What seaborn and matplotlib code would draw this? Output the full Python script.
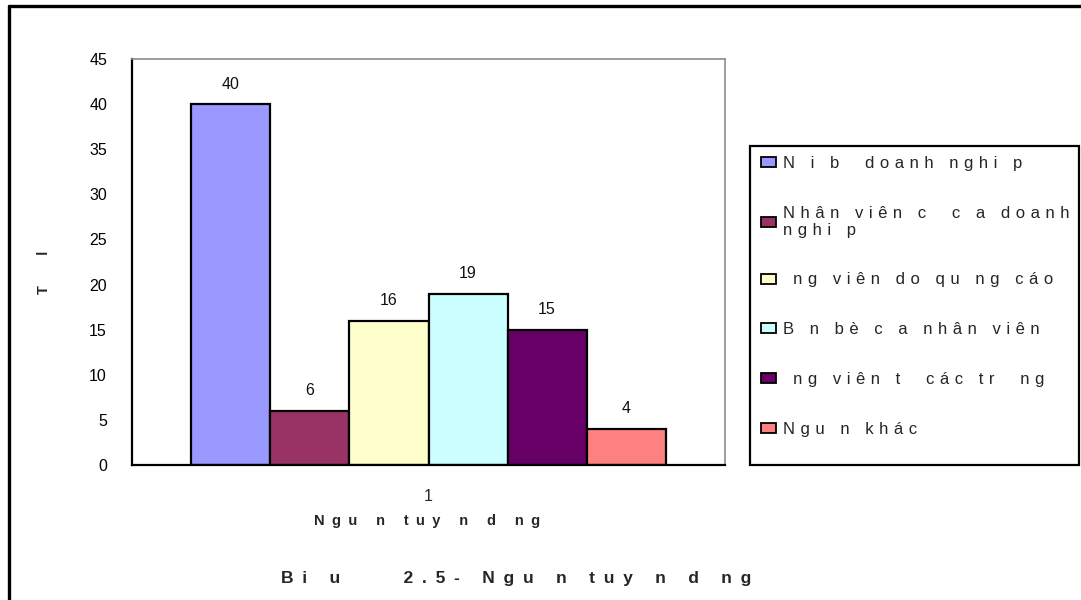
import matplotlib
matplotlib.use("Agg")
import matplotlib.pyplot as plt
import seaborn as sns
import pandas as pd
from matplotlib.patches import Rectangle, Patch
from matplotlib.lines import Line2D

# Recruitment sources and their share (%)
sources = [
    "N i b  doanh nghi p",
    "Nhân viên c  c a doanh\nnghi p",
    " ng viên do qu ng cáo",
    "B n bè c a nhân viên",
    " ng viên t  các tr  ng",
    "Ngu n khác",
]
shares = [40, 6, 16, 19, 15, 4]
group = ["1"] * len(sources)
colors = ["#9999FF", "#993366", "#FFFFCC", "#CCFFFF", "#660066", "#FF8080"]
y_ticks = [0, 5, 10, 15, 20, 25, 30, 35, 40, 45]

x_title = "Ngu n tuy n d ng"
y_title = "T  l"
chart_title = "Bi u    2.5- Ngu n tuy n d ng"

sns.set_style("white")
plt.rcParams["font.family"] = ["Liberation Sans", "DejaVu Sans"]

# wide letter tracking, as in the printed report
NARROW = "\u2004"   # three-per-em space
WIDE = "\u2002"     # en space


def track(s, sep=NARROW):
    return "\n".join(sep.join(line) for line in s.split("\n"))


df = pd.DataFrame({"group": group, "source": sources, "share": shares})

W, H = 1081, 600
fig = plt.figure(figsize=(W / 100, H / 100), dpi=100)
fig.patch.set_facecolor("white")


def fx(px):
    return px / W


def fy(py):
    return 1 - py / H


left, right, top, bottom = 132, 725, 59, 465
ax = fig.add_axes([fx(left), fy(bottom), fx(right - left), (bottom - top) / H])

sns.barplot(
    data=df, x="group", y="share", hue="source", hue_order=sources,
    palette=colors, edgecolor="black", linewidth=1.6, width=0.8, gap=0,
    saturation=1, legend=False, ax=ax,
)

for cont in ax.containers:
    ax.bar_label(cont, padding=9, fontsize=11.5, color="#111111")

ax.set_xlim(-0.5, 0.5)
ax.set_ylim(0, 45)
ax.set_yticks(y_ticks)
ax.tick_params(axis="y", direction="out", length=6, width=1.3, labelsize=11.5, pad=12, colors="black")
ax.set_xticks([0])
ax.set_xticklabels(["1"], fontsize=11.5)
ax.tick_params(axis="x", which="major", length=0, pad=17)
ax.set_xticks([-0.5, 0.5], minor=True)
ax.tick_params(axis="x", which="minor", direction="out", length=6, width=1.3)
ax.set_xlabel("")
ax.set_ylabel("")
ax.grid(False)

for side in ("left", "bottom"):
    ax.spines[side].set_color("black")
    ax.spines[side].set_linewidth(1.6)
for side in ("top", "right"):
    ax.spines[side].set_color("#8c8c8c")
    ax.spines[side].set_linewidth(1.2)

# Axis titles and chart caption
fig.text(fx(427), fy(521), track(x_title, WIDE), ha="center", va="center",
         fontsize=10.5, fontweight="bold")
fig.text(fx(44), fy(272), track(y_title, WIDE), ha="center", va="center",
         rotation=90, fontsize=10.5, fontweight="bold")
fig.text(fx(516), fy(578), track(chart_title, WIDE), ha="center", va="center",
         fontsize=12.5, fontweight="bold")

# Legend box
lx0, ly0, lx1, ly1 = 750, 146, 1079, 465
fig.add_artist(Rectangle((fx(lx0), fy(ly1)), fx(lx1 - lx0), (ly1 - ly0) / H,
                         transform=fig.transFigure, fill=False, edgecolor="black", linewidth=1.6))
handles = [Patch(facecolor=c, edgecolor="black", linewidth=1.3) for c in colors]
leg = fig.legend(handles, [track(s) for s in sources], loc="upper left",
                 bbox_to_anchor=(fx(761), fy(156)),
                 frameon=False, fontsize=12, labelspacing=2.09, handlelength=0.9,
                 handleheight=0.55, handletextpad=0.4, borderaxespad=0, borderpad=0)
leg.get_texts()[1].set_linespacing(1.15)

# Outer frame (top and left edges)
fig.add_artist(Line2D([fx(9), fx(9)], [0, fy(6)], transform=fig.transFigure, color="black", linewidth=2.4))
fig.add_artist(Line2D([fx(9), 1], [fy(6), fy(6)], transform=fig.transFigure, color="black", linewidth=2.4))

fig.savefig("out.png", dpi=100)
